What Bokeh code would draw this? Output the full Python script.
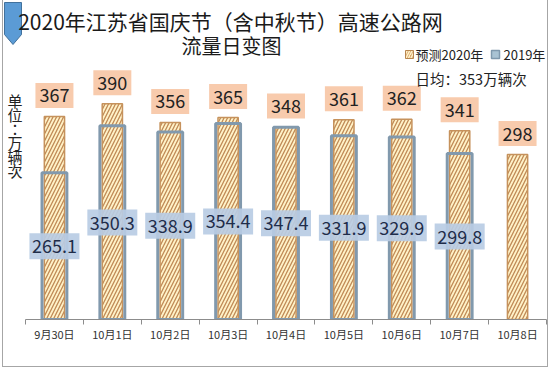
from bokeh.plotting import figure
from bokeh.embed import file_html
from bokeh.resources import INLINE
from bokeh.core.properties import value
from bokeh.models import FixedTicker

# ---- data ----
categories = ["9月30日", "10月1日", "10月2日", "10月3日", "10月4日",
              "10月5日", "10月6日", "10月7日", "10月8日"]
forecast_2020 = [367, 390, 356, 365, 348, 361, 362, 341, 298]
actual_2019 = [265.1, 350.3, 338.9, 354.4, 347.4, 331.9, 329.9, 299.8]
title_lines = ["2020年江苏省国庆节（含中秋节）高速公路网", "流量日变图"]
legend_names = ["预测2020年", "2019年"]
avg_note = "日均：353万辆次"
unit_label = "单位：万辆次"

FONT = value("Noto Sans CJK SC")

# ---- geometry helpers (canvas px -> data) ----
W, H_TOT = 548, 367
BOTTOM = 48
FH = H_TOT - BOTTOM          # frame height in px (baseline at y=319)
PXU = 0.5534                 # px per data unit (vertical)
YMAX = FH / PXU
PX = 521 / 9.0               # px per category
X0 = -25 / PX
X1 = 9 + (W - 546) / PX
PY = 1 / PXU                 # data units per px


def dx(c):
    return X0 + c / PX


def dy(c):
    return (FH - c) * PY


n = len(categories)
xs = [i + 0.5 for i in range(n)]
xs19 = xs[:len(actual_2019)]

p = figure(width=W, height=H_TOT, output_backend="svg", toolbar_location=None,
           x_range=(X0, X1), y_range=(0, YMAX), y_axis_type=None,
           min_border_left=0, min_border_right=0, min_border_top=0,
           min_border_bottom=BOTTOM)
p.background_fill_color = None
p.border_fill_color = None
p.outline_line_color = None
p.grid.visible = False
p.styles = {"box-shadow": ("inset 2px 0 0 0 #ffffff, inset 3px 0 0 0 #a6a6a6, "
                           "inset -1px 0 0 0 #a6a6a6, inset 0 -1px 0 0 #a6a6a6")}

# x axis
ax = p.xaxis[0]
ax.ticker = FixedTicker(ticks=xs, minor_ticks=list(range(n + 1)))
ax.major_label_overrides = {x: c for x, c in zip(xs, categories)}
ax.bounds = (0, n)
ax.axis_line_color = "#8c8c8c"
ax.major_tick_line_color = None
ax.major_tick_out = 0
ax.major_tick_in = 0
ax.minor_tick_line_color = "#8c8c8c"
ax.minor_tick_out = 5
ax.minor_tick_in = 0
ax.major_label_standoff = 1
ax.major_label_text_font = "Noto Sans CJK SC"
ax.major_label_text_font_size = "11px"
ax.major_label_text_color = "#333333"

# bars: 2020 forecast (hatched)
p.vbar(x=xs, top=forecast_2020, bottom=0, width=0.35,
       fill_color="#fff2c8", line_color="#c6925c", line_width=1.5,
       hatch_pattern="/", hatch_color="#c08a55", hatch_scale=7, hatch_weight=1.3)

# bars: 2019 (outline)
p.vbar(x=xs19, top=actual_2019, bottom=0, width=0.43,
       fill_color=None, line_color="#8199ad", line_width=3)

# 2020 labels above bars
lab20_y = [v + 21 * PY for v in forecast_2020]
p.rect(x=xs, y=lab20_y, width=38, height=25, width_units="screen", height_units="screen",
       fill_color="#f8cbad", line_color=None)
p.text(x=xs, y=lab20_y, text=[f"{v:d}" for v in forecast_2020],
       text_align="center", text_baseline="middle", text_font=FONT,
       text_font_size="18px", text_color="#222222")

# 2019 labels at bar centre
lab19_y = [v / 2 for v in actual_2019]
p.rect(x=xs19, y=lab19_y, width=50, height=26, width_units="screen", height_units="screen",
       fill_color="#b8cce4", fill_alpha=0.92, line_color=None)
p.text(x=xs19, y=lab19_y, text=[f"{v:.1f}" for v in actual_2019],
       text_align="center", text_baseline="middle", text_font=FONT,
       text_font_size="18px", text_color="#1f2d4a")

# decorative marker top-left
p.patch(x=[dx(4), dx(21), dx(21), dx(12.5), dx(4)],
        y=[dy(2), dy(2), dy(34), dy(44), dy(34)],
        fill_color="#5b9bd5", line_color="#41719c", line_width=1)

# title
p.text(x=[dx(230)], y=[dy(20)], text=[title_lines[0]], text_align="center",
       text_baseline="middle", text_font=FONT, text_font_size="21px", text_color="#1a1a1a")
p.text(x=[dx(231)], y=[dy(45)], text=[title_lines[1]], text_align="center",
       text_baseline="middle", text_font=FONT, text_font_size="20px", text_color="#1a1a1a")

# legend
p.rect(x=[dx(409)], y=[dy(54)], width=8, height=8, width_units="screen", height_units="screen",
       fill_color="#d9a86c", line_color="#b8864f", line_width=1,
       hatch_pattern="/", hatch_color="#fff1c9", hatch_scale=5, hatch_weight=1.5)
p.text(x=[dx(415)], y=[dy(54)], text=[legend_names[0]], text_align="left",
       text_baseline="middle", text_font=FONT, text_font_size="13px", text_color="#222222")
p.rect(x=[dx(495)], y=[dy(54)], width=8, height=8, width_units="screen", height_units="screen",
       fill_color="#a9c3d3", line_color="#7f99ad", line_width=1.5)
p.text(x=[dx(503)], y=[dy(54)], text=[legend_names[1]], text_align="left",
       text_baseline="middle", text_font=FONT, text_font_size="13px", text_color="#222222")
p.text(x=[dx(415)], y=[dy(78)], text=[avg_note], text_align="left",
       text_baseline="middle", text_font=FONT, text_font_size="14.5px", text_color="#222222")

# unit label, stacked vertically (TC face centres the full-width colon)
chars = list(unit_label)
p.text(x=[dx(14.5)] * len(chars), y=[dy(100 + 14 * i) for i in range(len(chars))], text=chars,
       text_align="center", text_baseline="middle", text_font=value("Noto Sans CJK TC"),
       text_font_size="15px", text_color="#222222")

open("out.html", "w").write(file_html(p, INLINE))
